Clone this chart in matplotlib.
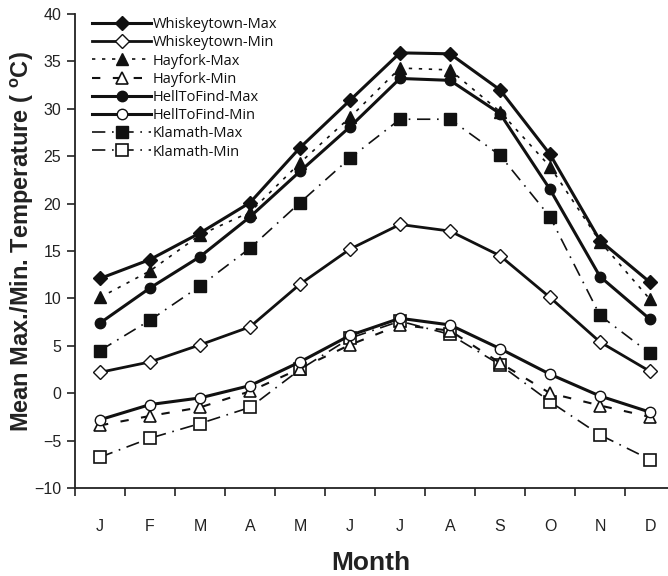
import matplotlib
matplotlib.use("Agg")
import matplotlib.pyplot as plt
import numpy as np

months = ["J", "F", "M", "A", "M", "J", "J", "A", "S", "O", "N", "D"]

whiskeytown_max = [12.1, 14.1, 16.9, 20.1, 25.9, 30.9, 35.9, 35.8, 32.0, 25.2, 16.1, 11.7]
whiskeytown_min = [2.2, 3.3, 5.1, 7.0, 11.5, 15.2, 17.8, 17.1, 14.5, 10.1, 5.4, 2.3]
hayfork_max = [10.1, 12.9, 16.7, 19.1, 24.3, 29.1, 34.3, 34.1, 29.7, 23.9, 16.0, 9.9]
hayfork_min = [-3.4, -2.4, -1.5, 0.2, 2.6, 5.1, 7.2, 6.6, 3.2, 0.0, -1.3, -2.5]
helltofind_max = [7.4, 11.1, 14.4, 18.6, 23.4, 28.1, 33.2, 33.0, 29.5, 21.5, 12.3, 7.8]
helltofind_min = [-2.8, -1.2, -0.5, 0.8, 3.3, 6.1, 7.9, 7.2, 4.7, 2.0, -0.3, -2.0]
klamath_max = [4.5, 7.7, 11.3, 15.3, 20.1, 24.8, 28.9, 28.9, 25.1, 18.6, 8.2, 4.2]
klamath_min = [-6.75, -4.75, -3.2, -1.5, 2.5, 5.8, 7.6, 6.2, 3.0, -0.9, -4.4, -7.0]

x = np.arange(len(months))

fig = plt.figure(figsize=(6.68, 5.76), dpi=100)
ax = fig.add_axes([0.1123, 0.1528, 0.8877, 0.8229])

k = "#111111"
ms = 8.5
ax.plot(x, whiskeytown_max, color=k, lw=2.2, marker="D", ms=ms - 1.5, mfc=k, mec=k, label="Whiskeytown-Max", zorder=5)
ax.plot(x, whiskeytown_min, color=k, lw=2.0, marker="D", ms=ms - 1.5, mfc="white", mec=k, mew=1.0, label="Whiskeytown-Min", zorder=5)
ax.plot(x, hayfork_max, color=k, lw=1.2, ls=(0, (2, 4)), marker="^", ms=ms + 0.5, mfc=k, mec=k, label="Hayfork-Max", zorder=4)
ax.plot(x, hayfork_min, color=k, lw=1.5, ls=(0, (4, 6)), marker="^", ms=ms + 0.5, mfc="white", mec=k, mew=1.2, label="Hayfork-Min", zorder=4)
ax.plot(x, helltofind_max, color=k, lw=2.2, marker="o", ms=ms - 1, mfc=k, mec=k, label="HellToFind-Max", zorder=5)
ax.plot(x, helltofind_min, color=k, lw=2.2, marker="o", ms=ms - 1, mfc="white", mec=k, mew=1.0, label="HellToFind-Min", zorder=5)
ax.plot(x, klamath_max, color=k, lw=1.2, ls=(0, (8, 4, 1, 4)), marker="s", ms=ms, mfc=k, mec=k, label="Klamath-Max", zorder=3)
ax.plot(x, klamath_min, color=k, lw=1.2, ls=(0, (8, 4, 1, 4)), marker="s", ms=ms, mfc="white", mec=k, mew=1.2, label="Klamath-Min", zorder=3)

ax.set_xlim(-0.5, 11.36)
ax.set_ylim(-10, 40)
ax.set_yticks(np.arange(-10, 41, 5))
ax.set_xticks(np.arange(-0.5, 11.5, 1.0))
ax.set_xticklabels([])
ax.set_xticks(x, minor=True)
ax.set_xticklabels(months, minor=True)
ax.tick_params(axis="x", which="major", direction="out", length=6, width=1.2, color="#222222")
ax.tick_params(axis="x", which="minor", length=0, pad=22, labelsize=11.5, labelcolor="#222222")
ax.tick_params(axis="y", direction="out", length=6, width=1.2, color="#222222", pad=4, labelsize=11.5, labelcolor="#222222")
for lab in ax.get_xticklabels(minor=True) + ax.get_yticklabels():
    lab.set_fontfamily("Liberation Sans")

for s in ["top", "right"]:
    ax.spines[s].set_visible(False)
for s in ["left", "bottom"]:
    ax.spines[s].set_linewidth(1.3)
    ax.spines[s].set_color("#222222")

ax.set_xlabel("Month", fontsize=19, fontweight="bold", family="Liberation Sans", color="#222222")
ax.xaxis.set_label_coords(0.499, -0.133)
ax.set_ylabel(r"Mean Max./Min. Temperature ( $^{\mathregular{o}}$C)", fontsize=17, fontweight="bold",
              family="Liberation Sans", color="#222222")
ax.yaxis.set_label_coords(-0.089, 0.52)
ax.yaxis.label.set_va("center")

leg = ax.legend(loc="upper left", bbox_to_anchor=(0.012, 1.015), frameon=False,
                handlelength=4.0, handletextpad=0.15, labelspacing=0.22, borderaxespad=0.3,
                prop={"family": "Open Sans", "size": 10.5})
for t in leg.get_texts():
    t.set_color("#111111")

fig.savefig("out.png", dpi=100)
